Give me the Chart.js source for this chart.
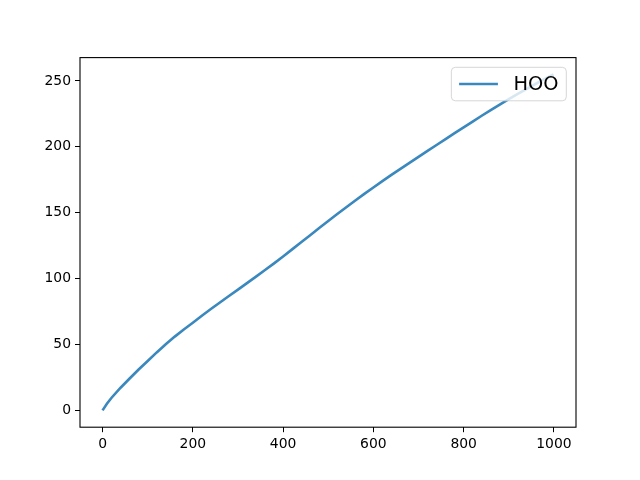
<!DOCTYPE html>
<html lang="en">
<head>
  <meta charset="UTF-8">
  <title>HOO</title>
  <script src="https://cdn.jsdelivr.net/npm/chart.js"></script>
  <style>
    html, body {
      margin: 0;
      padding: 0;
      background-color: #fff;
    }
    canvas {
      display: block;
    }
  </style>
</head>
<body>
  <canvas id="hooChart" width="640" height="480"></canvas>

  <script>
    const seriesLabel = "HOO";
    const xValues = [0, 10, 20, 40, 60, 80, 100, 120, 140, 160, 180,
      200, 220, 240, 260, 280, 300, 320, 340, 360, 380,
      400, 420, 440, 460, 480, 500, 520, 540, 560, 580,
      600, 620, 640, 660, 680, 700, 720, 740, 760, 780,
      800, 820, 840, 860, 880, 900, 920, 940, 960, 980, 999];
    const yValues = [0, 5.2, 9.6, 17.2, 24.2, 31, 37.5, 44, 50.2, 56, 61.4,
      66.5, 71.8, 76.9, 81.9, 86.8, 91.7, 96.6, 101.5, 106.5, 111.6,
      116.8, 122.2, 127.6, 133, 138.4, 143.7, 149, 154.2, 159.3, 164.3,
      169.2, 174, 178.7, 183.3, 187.9, 192.4, 196.9, 201.4, 205.9, 210.4,
      214.8, 219.2, 223.6, 227.9, 232.1, 236.2, 240.2, 244.1, 247.9, 251.6, 255];
    const xTicks = [0, 200, 400, 600, 800, 1000];
    const yTicks = [0, 50, 100, 150, 200, 250];

    const lineColor = "rgba(31, 119, 180, 0.88)";
    const tickFont = { family: "DejaVu Sans", size: 13.9 };

    // frame round the plot area plus a matplotlib style legend inside it
    const frameAndLegend = {
      id: "frameAndLegend",
      afterDatasetsDraw(chart) {
        const ctx = chart.ctx;
        const a = chart.chartArea;
        ctx.save();

        // legend box, upper right
        const fs = 19.4;
        ctx.font = fs + "px 'DejaVu Sans'";
        const label = chart.data.datasets[0].label;
        const textW = ctx.measureText(label).width;
        const pad = 0.4 * fs, handleLen = 2.0 * fs, gap = 0.8 * fs;
        const boxW = pad + handleLen + gap + textW + pad;
        const boxH = 33.5;
        const boxR = a.right - 0.5 * fs;
        const boxT = a.top + 0.5 * fs;
        const boxL = boxR - boxW;
        ctx.beginPath();
        ctx.roundRect(boxL, boxT, boxW, boxH, 4);
        ctx.fillStyle = "rgba(255,255,255,0.8)";
        ctx.fill();
        ctx.strokeStyle = "rgba(204,204,204,0.8)";
        ctx.lineWidth = 1;
        ctx.stroke();

        const midY = boxT + boxH / 2;
        ctx.beginPath();
        ctx.moveTo(boxL + pad, midY);
        ctx.lineTo(boxL + pad + handleLen, midY);
        ctx.strokeStyle = lineColor;
        ctx.lineWidth = 2.6;
        ctx.stroke();

        ctx.fillStyle = "#000";
        ctx.textBaseline = "middle";
        ctx.fillText(label, boxL + pad + handleLen + gap, midY + 1);

        // axes frame
        ctx.strokeStyle = "#000";
        ctx.lineWidth = 1.1;
        ctx.strokeRect(a.left, a.top, a.right - a.left, a.bottom - a.top);
        ctx.restore();
      }
    };

    const ctx = document.getElementById("hooChart").getContext("2d");
    new Chart(ctx, {
      type: "line",
      data: {
        datasets: [{
          label: seriesLabel,
          data: xValues.map((x, i) => ({ x: x, y: yValues[i] })),
          borderColor: lineColor,
          borderWidth: 2.6,
          pointRadius: 0,
          fill: false,
          tension: 0
        }]
      },
      options: {
        responsive: false,
        animation: false,
        layout: {
          padding: { left: 0, top: 57.6, right: 64, bottom: 0 }
        },
        plugins: {
          legend: { display: false },
          tooltip: { enabled: false }
        },
        scales: {
          x: {
            type: "linear",
            min: -49.95,
            max: 1048.95,
            afterBuildTicks: s => { s.ticks = xTicks.map(v => ({ value: v })); },
            afterFit: s => { s.height = 52.8; },
            grid: {
              drawOnChartArea: false,
              drawTicks: true,
              tickLength: 5,
              color: "#000"
            },
            border: { display: false },
            ticks: {
              color: "#000",
              font: tickFont,
              padding: 4,
              maxRotation: 0,
              callback: v => String(v)
            }
          },
          y: {
            type: "linear",
            min: -12.75,
            max: 267.75,
            afterBuildTicks: s => { s.ticks = yTicks.map(v => ({ value: v })); },
            afterFit: s => { s.width = 80; },
            grid: {
              drawOnChartArea: false,
              drawTicks: true,
              tickLength: 5,
              color: "#000"
            },
            border: { display: false },
            ticks: {
              color: "#000",
              font: tickFont,
              padding: 4,
              callback: v => String(v)
            }
          }
        }
      },
      plugins: [frameAndLegend]
    });
  </script>
</body>
</html>
